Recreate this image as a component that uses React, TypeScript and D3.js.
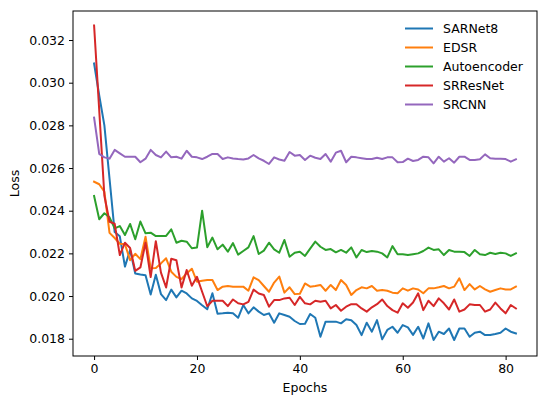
import * as d3 from "d3";
import React, { useEffect, useRef } from "react";

// epochs 0..82
const sarnet8 = [
  0.0309, 0.0294, 0.028, 0.0255, 0.023, 0.0228, 0.02138, 0.02216, 0.02106, 0.02101,
  0.02098, 0.02007, 0.021, 0.02009, 0.01981, 0.0203, 0.01994, 0.02025, 0.02012, 0.01989,
  0.01977, 0.01957, 0.01938, 0.02013, 0.01917, 0.01919, 0.01922, 0.01919, 0.01898, 0.01958,
  0.01919, 0.01947, 0.01927, 0.01911, 0.01919, 0.01875, 0.01919, 0.01911, 0.01903, 0.01883,
  0.01869, 0.0187, 0.01916, 0.01898, 0.01809, 0.0188, 0.0188, 0.0188, 0.01872, 0.01891,
  0.01887, 0.01864, 0.01817, 0.01875, 0.01833, 0.01887, 0.01797, 0.01841, 0.01856, 0.01828,
  0.01864, 0.01853, 0.01818, 0.01856, 0.01801, 0.01872, 0.01794, 0.01833, 0.01822, 0.01848,
  0.01794, 0.01848, 0.01848, 0.01809, 0.01828, 0.01833, 0.01817, 0.01817, 0.01822, 0.01828,
  0.01848, 0.01833, 0.01825,
];

const edsr = [
  0.02536, 0.02524, 0.02489, 0.02296, 0.02272, 0.02245, 0.02243, 0.02168, 0.02198, 0.02173,
  0.02278, 0.0213, 0.02132, 0.02153, 0.02177, 0.02114, 0.0209, 0.0208, 0.02106, 0.02128,
  0.02067, 0.02072, 0.02075, 0.02075, 0.02028, 0.02044, 0.02047, 0.02044, 0.02044, 0.02044,
  0.02025, 0.02088, 0.02075, 0.02047, 0.0202, 0.02063, 0.02091, 0.02016, 0.02041, 0.02009,
  0.02011, 0.02059, 0.02044, 0.02047, 0.02052, 0.02025, 0.02052, 0.02028, 0.02075, 0.02052,
  0.02005, 0.02028, 0.02041, 0.02036, 0.02047, 0.02025, 0.02028, 0.02025, 0.02016, 0.02013,
  0.02036, 0.02025, 0.02036, 0.02031, 0.02013, 0.02036, 0.02036, 0.02041, 0.02047, 0.02036,
  0.02044, 0.02083, 0.02028, 0.02056, 0.02031, 0.02047, 0.02031, 0.0202, 0.02028, 0.02036,
  0.02031, 0.02031, 0.02044,
];

const autoencoder = [
  0.02469, 0.0236, 0.02388, 0.02369, 0.02317, 0.02328, 0.02286, 0.02338, 0.02266, 0.02349,
  0.02294, 0.02297, 0.02281, 0.02281, 0.02282, 0.02313, 0.0225, 0.02259, 0.02255, 0.02224,
  0.02227, 0.024, 0.02229, 0.02274, 0.02219, 0.02241, 0.02208, 0.02248, 0.02194, 0.02211,
  0.02228, 0.02281, 0.02197, 0.02213, 0.0225, 0.02219, 0.02203, 0.02263, 0.02184, 0.02203,
  0.02208, 0.02188, 0.02222, 0.02255, 0.02231, 0.02216, 0.0222, 0.02205, 0.02216, 0.02203,
  0.02228, 0.02181, 0.02216, 0.02206, 0.02211, 0.02208, 0.022, 0.02181, 0.02234, 0.02196,
  0.02196, 0.02192, 0.02196, 0.022, 0.02211, 0.02227, 0.02216, 0.02219, 0.02192, 0.02216,
  0.02208, 0.02208, 0.02206, 0.02188, 0.02216, 0.02196, 0.02192, 0.02203, 0.02197, 0.02203,
  0.022, 0.02188, 0.022,
];

const srresnet = [
  0.03268, 0.0287, 0.0247, 0.02348, 0.02339, 0.02192, 0.0225, 0.02225, 0.02118, 0.02134,
  0.0225, 0.02089, 0.02257, 0.0211, 0.0204, 0.02175, 0.02168, 0.0204, 0.02122, 0.02048,
  0.0209, 0.0202, 0.01952, 0.01978, 0.01978, 0.01978, 0.01953, 0.01984, 0.01966, 0.01961,
  0.01973, 0.0203, 0.02012, 0.02005, 0.0195, 0.01981, 0.01981, 0.01989, 0.01992, 0.01958,
  0.01996, 0.01966, 0.01961, 0.01978, 0.01973, 0.01978, 0.01942, 0.01958, 0.01931, 0.0195,
  0.01962, 0.01962, 0.01942, 0.01927, 0.01947, 0.01962, 0.01984, 0.01953, 0.01934, 0.01922,
  0.01966, 0.01945, 0.0197, 0.02013, 0.01934, 0.01978, 0.01953, 0.01989, 0.01966, 0.01937,
  0.01984, 0.01927, 0.01937, 0.01961, 0.01958, 0.01958, 0.01927, 0.01937, 0.01969, 0.01942,
  0.01919, 0.01958, 0.01942,
];

const srcnn = [
  0.02836, 0.02666, 0.0265, 0.02644, 0.02685, 0.02669, 0.02653, 0.02653, 0.02653, 0.02627,
  0.02644, 0.02685, 0.02661, 0.0265, 0.02677, 0.0265, 0.02653, 0.02644, 0.02681, 0.02653,
  0.0265, 0.02642, 0.02653, 0.02666, 0.02666, 0.02642, 0.0265, 0.02645, 0.02642, 0.0264,
  0.02645, 0.02661, 0.02645, 0.02634, 0.02619, 0.0265, 0.0264, 0.02634, 0.02675, 0.02658,
  0.02661, 0.02638, 0.02658, 0.02648, 0.02642, 0.02666, 0.0263, 0.02672, 0.02681, 0.02627,
  0.02653, 0.0265, 0.02646, 0.02642, 0.02642, 0.02648, 0.02642, 0.0265, 0.0265, 0.02627,
  0.02628, 0.02644, 0.02633, 0.02638, 0.02653, 0.0265, 0.02622, 0.02653, 0.0263, 0.02646,
  0.02625, 0.02653, 0.02653, 0.02638, 0.02638, 0.02641, 0.02664, 0.02646, 0.02644, 0.02644,
  0.02642, 0.0263, 0.02641,
];

const seriesNames = ["SARNet8", "EDSR", "Autoencoder", "SRResNet", "SRCNN"];
const seriesValues = [sarnet8, edsr, autoencoder, srresnet, srcnn];
const colors = ["#1f77b4", "#ff7f0e", "#2ca02c", "#d62728", "#9467bd"];
const xTicks = [0, 20, 40, 60, 80];
const yTicks = [0.018, 0.02, 0.022, 0.024, 0.026, 0.028, 0.03, 0.032];

const W = 550,
  H = 407;
const FONT = "DejaVu Sans, sans-serif";
const FS = "12.5px";

function drawChart(el: SVGSVGElement) {
  const svg = d3.select(el);
  svg.selectAll("*").remove();

  // plot area
  const left = 73,
    right = 537,
    top = 11,
    bottom = 356;

  const x = d3.scaleLinear().domain([-4.1, 86.1]).range([left, right]);
  const y = d3.scaleLinear().domain([0.01719, 0.03336]).range([bottom, top]);

  svg.append("rect").attr("width", W).attr("height", H).attr("fill", "#fff");

  // lines
  const line = d3
    .line<number>()
    .x((_, i) => x(i))
    .y(d => y(d));

  svg
    .append("g")
    .selectAll("path")
    .data(seriesValues)
    .join("path")
    .attr("d", d => line(d))
    .attr("fill", "none")
    .attr("stroke", (_, i) => colors[i])
    .attr("stroke-width", 2)
    .attr("stroke-linejoin", "round")
    .attr("stroke-linecap", "square");

  // axes
  const xAxis = svg
    .append("g")
    .attr("transform", `translate(0,${bottom})`)
    .call(d3.axisBottom(x).tickValues(xTicks).tickSize(4).tickPadding(4).tickFormat(d3.format("d")));
  const yAxis = svg
    .append("g")
    .attr("transform", `translate(${left},0)`)
    .call(d3.axisLeft(y).tickValues(yTicks).tickSize(4).tickPadding(4).tickFormat(d3.format(".3f")));

  [xAxis, yAxis].forEach(a => {
    a.select(".domain").remove();
    a.selectAll("line").attr("stroke", "#000").attr("stroke-width", 1);
    a.selectAll("text").attr("fill", "#000").style("font-family", FONT).style("font-size", FS);
  });

  // frame
  svg
    .append("rect")
    .attr("x", left)
    .attr("y", top)
    .attr("width", right - left)
    .attr("height", bottom - top)
    .attr("fill", "none")
    .attr("stroke", "#000")
    .attr("stroke-width", 1);

  // axis labels
  svg
    .append("text")
    .attr("x", (left + right) / 2)
    .attr("y", 392)
    .attr("text-anchor", "middle")
    .style("font-family", FONT)
    .style("font-size", FS)
    .text("Epochs");
  svg
    .append("text")
    .attr("transform", `translate(19,${(top + bottom) / 2}) rotate(-90)`)
    .attr("text-anchor", "middle")
    .style("font-family", FONT)
    .style("font-size", FS)
    .text("Loss");

  // legend
  const legend = svg
    .append("g")
    .selectAll("g")
    .data(seriesNames)
    .join("g")
    .attr("transform", (_, i) => `translate(405,${28.5 + i * 19})`);
  legend
    .append("line")
    .attr("x1", 0)
    .attr("x2", 28)
    .attr("stroke", (_, i) => colors[i])
    .attr("stroke-width", 2);
  legend
    .append("text")
    .attr("x", 38)
    .attr("dy", "0.36em")
    .style("font-family", FONT)
    .style("font-size", FS)
    .text(d => d);
}

export default function App() {
  const ref = useRef<SVGSVGElement>(null);
  useEffect(() => {
    if (ref.current) drawChart(ref.current);
  }, []);
  return (
    <svg
      ref={ref}
      width={W}
      height={H}
      style={{ position: "absolute", left: 0, top: 0 }}
    />
  );
}
